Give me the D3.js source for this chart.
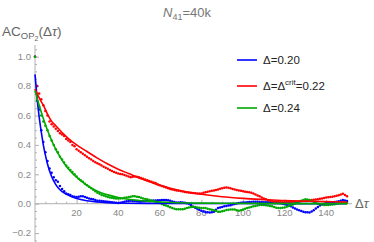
<!DOCTYPE html>
<html>
<head>
<meta charset="utf-8">
<script src="https://cdn.jsdelivr.net/npm/d3@7"></script>
<style>
  body { margin: 0; background: #fff; }
  text { font-family: "Liberation Sans", Arial, sans-serif; }
</style>
</head>
<body>
<div id="chart"></div>
<script>
const width = 374;
const height = 242;

const blueDots = [
  1.0, 0.80, 0.64, 0.50, 0.42, 0.35, 0.29, 0.24, 0.21, 0.18,
  0.16, 0.15, 0.12, 0.10, 0.085, 0.07, 0.065, 0.06, 0.05, 0.048,
  0.045, 0.048, 0.05, 0.05, 0.045, 0.04, 0.035, 0.032, 0.03, 0.025,
  0.02, 0.02, 0.018, 0.016, 0.015, 0.013, 0.012, 0.01, 0.008, 0.006,
  0.005, 0.007, 0.01, 0.013, 0.016, 0.019, 0.02, 0.019, 0.018, 0.016,
  0.015, 0.015, 0.016, 0.017, 0.018, 0.019, 0.02, 0.021, 0.022, 0.023,
  0.024, 0.025, 0.026, 0.025, 0.024, 0.02, 0.015, 0.011, 0.008, 0.009,
  0.01, 0.008, 0.006, 0.003, 0.0, -0.01, -0.02, -0.028, -0.035, -0.042,
  -0.048, -0.053, -0.058, -0.059, -0.06, -0.058, -0.055, -0.042, -0.03, -0.026,
  -0.022, -0.018, -0.015, -0.012, -0.01, -0.006, -0.002, 0.002, 0.005, 0.007,
  0.008, 0.009, 0.01, 0.011, 0.012, 0.013, 0.014, 0.013, 0.012, 0.011,
  0.01, 0.01, 0.01, 0.009, 0.008, 0.008, 0.008, 0.006, 0.004, 0.0,
  -0.004, -0.008, -0.012, -0.018, -0.025, -0.033, -0.04, -0.045, -0.05, -0.054,
  -0.058, -0.059, -0.06, -0.053, -0.045, -0.033, -0.022, -0.013, -0.005, 0.0,
  0.004, 0.006, 0.008, 0.01, 0.012, 0.014, 0.016, 0.02, 0.025, 0.022,
  0.018
];

const redDots = [
  1.0, 0.80, 0.75, 0.71, 0.67, 0.63, 0.60, 0.56, 0.54, 0.525,
  0.51, 0.495, 0.48, 0.47, 0.46, 0.44, 0.43, 0.42, 0.40, 0.39,
  0.37, 0.36, 0.35, 0.34, 0.33, 0.32, 0.31, 0.30, 0.29, 0.282,
  0.275, 0.268, 0.26, 0.252, 0.245, 0.238, 0.23, 0.222, 0.215, 0.21,
  0.205, 0.202, 0.20, 0.195, 0.19, 0.185, 0.18, 0.183, 0.185, 0.183,
  0.18, 0.175, 0.17, 0.165, 0.16, 0.155, 0.15, 0.145, 0.14, 0.132,
  0.125, 0.12, 0.115, 0.11, 0.105, 0.10, 0.097, 0.093, 0.09, 0.088,
  0.086, 0.083, 0.08, 0.078, 0.076, 0.075, 0.073, 0.071, 0.07, 0.069,
  0.07, 0.074, 0.078, 0.082, 0.085, 0.088, 0.09, 0.094, 0.097, 0.101,
  0.105, 0.108, 0.11, 0.108, 0.105, 0.10, 0.097, 0.094, 0.09, 0.088,
  0.085, 0.082, 0.08, 0.078, 0.075, 0.069, 0.062, 0.056, 0.05, 0.042,
  0.035, 0.03, 0.025, 0.02, 0.016, 0.014, 0.013, 0.012, 0.011, 0.01,
  0.01, 0.01, 0.011, 0.012, 0.013, 0.014, 0.014, 0.015, 0.016, 0.018,
  0.02, 0.021, 0.022, 0.025, 0.027, 0.029, 0.031, 0.034, 0.036, 0.039,
  0.042, 0.044, 0.046, 0.048, 0.05, 0.054, 0.058, 0.063, 0.068, 0.06,
  0.05
];

const greenDots = [
  1.0, 0.70, 0.66, 0.60, 0.56, 0.53, 0.50, 0.46, 0.43, 0.40,
  0.37, 0.35, 0.32, 0.30, 0.28, 0.26, 0.245, 0.23, 0.215, 0.20,
  0.185, 0.17, 0.16, 0.15, 0.135, 0.125, 0.115, 0.105, 0.095, 0.085,
  0.075, 0.068, 0.06, 0.055, 0.05, 0.046, 0.042, 0.04, 0.037, 0.036,
  0.035, 0.036, 0.037, 0.04, 0.043, 0.046, 0.048, 0.05, 0.05, 0.048,
  0.045, 0.04, 0.035, 0.032, 0.03, 0.026, 0.022, 0.018, 0.014, 0.01,
  0.005, -0.002, -0.008, -0.013, -0.018, -0.024, -0.03, -0.034, -0.038, -0.038,
  -0.038, -0.037, -0.035, -0.03, -0.025, -0.022, -0.02, -0.022, -0.025, -0.028,
  -0.03, -0.03, -0.03, -0.034, -0.038, -0.042, -0.045, -0.05, -0.055, -0.054,
  -0.052, -0.048, -0.043, -0.041, -0.04, -0.04, -0.04, -0.044, -0.048, -0.044,
  -0.04, -0.035, -0.03, -0.026, -0.022, -0.018, -0.015, -0.012, -0.009, -0.009,
  -0.009, -0.01, -0.012, -0.015, -0.018, -0.023, -0.028, -0.029, -0.03, -0.028,
  -0.025, -0.02, -0.015, -0.01, -0.005, 0.002, 0.008, 0.014, 0.02, 0.025,
  0.03, 0.028, 0.025, 0.018, 0.012, 0.006, 0.0, -0.003, -0.006, -0.008,
  -0.009, -0.008, -0.007, -0.005, -0.003, 0.0, 0.003, 0.006, 0.008, 0.007,
  0.005
];

// courbes ajustées, lues point par point : [Δτ, AC]
const blueFit = [[0,0.88],[1,0.72],[2,0.59],[3,0.49],[4,0.40],[5,0.33],[6,0.27],[8,0.185],[10,0.13],[12,0.095],[15,0.065],[20,0.035],[25,0.02],[30,0.012],[40,0.005],[60,0.002],[100,0.001],[150,0.0]];
const redFit = [[0,0.78],[2,0.72],[4,0.67],[6,0.61],[8,0.56],[10,0.53],[14,0.47],[18,0.42],[20,0.40],[25,0.355],[30,0.31],[35,0.27],[40,0.235],[45,0.205],[50,0.175],[55,0.15],[60,0.125],[65,0.105],[70,0.088],[80,0.064],[90,0.047],[100,0.036],[110,0.028],[120,0.021],[130,0.017],[140,0.014],[150,0.012]];
const greenFit = [[0,0.77],[2,0.67],[4,0.58],[6,0.50],[8,0.43],[10,0.37],[12,0.32],[15,0.255],[20,0.18],[25,0.125],[30,0.085],[35,0.06],[40,0.042],[50,0.022],[60,0.012],[80,0.004],[100,0.002],[150,0.0]];

const xTicks = [20, 40, 60, 80, 100, 120, 140];
const yTicks = [-0.2, 0.0, 0.2, 0.4, 0.6, 0.8, 1.0];
const legendLabels = ["0.20", "crit", "0.24"];

const series = [
  { dots: blueDots, fit: blueFit, color: "#0000ff" },
  { dots: redDots, fit: redFit, color: "#ff0000" },
  { dots: greenDots, fit: greenFit, color: "#00a800" }
];

const x = d3.scaleLinear().domain([0, 150]).range([35, 347]);
const y = d3.scaleLinear().domain([0, 1]).range([203.7, 56.7]);

const svg = d3.select("#chart").append("svg")
  .attr("width", width)
  .attr("height", height);

const axisColor = "#b0b0b0";
const labelColor = "#888";

// axes façon Mathematica (ticks vers l'intérieur)
const xAxis = svg.append("g")
  .attr("transform", `translate(0,${y(0)})`)
  .call(d3.axisTop(x).tickValues(d3.range(5, 151, 5)).tickSize(2).tickFormat(""));
xAxis.selectAll(".tick line").attr("stroke", axisColor)
  .filter(d => d % 20 === 0).attr("y2", -4);
xAxis.select(".domain").attr("stroke", axisColor).attr("d", `M35,0H352`);

svg.append("g").selectAll("text")
  .data(xTicks)
  .enter().append("text")
  .attr("x", d => x(d))
  .attr("y", y(0) + 12.5)
  .attr("text-anchor", "middle")
  .attr("font-size", "9.5px")
  .attr("fill", labelColor)
  .text(d => d);

const yAxis = svg.append("g")
  .attr("transform", `translate(${x(0)},0)`)
  .call(d3.axisRight(y).tickValues(d3.range(-0.25, 1.051, 0.05)).tickSize(2).tickFormat(""));
yAxis.selectAll(".tick line").attr("stroke", axisColor)
  .filter(d => Math.abs(Math.round(d * 5) - d * 5) < 1e-6).attr("x2", 4);
yAxis.select(".domain").attr("stroke", axisColor).attr("d", `M0,${y(-0.26)}V${y(1.08)}`);

svg.append("g").selectAll("text")
  .data(yTicks)
  .enter().append("text")
  .attr("x", 31)
  .attr("y", d => y(d) + 3.3)
  .attr("text-anchor", "end")
  .attr("font-size", "9.5px")
  .attr("fill", labelColor)
  .text(d => d < 0 ? "\u2212" + d3.format(".1f")(-d) : d3.format(".1f")(d));

// points
series.forEach(s => {
  svg.append("g").selectAll("circle")
    .data(s.dots)
    .enter().append("circle")
    .attr("cx", (d, i) => x(i))
    .attr("cy", d => y(d))
    .attr("r", 1.25)
    .attr("fill", s.color);
});

// ajustements
const line = d3.line()
  .x(d => x(d[0]))
  .y(d => y(d[1]))
  .curve(d3.curveMonotoneX);

series.forEach(s => {
  svg.append("path")
    .datum(s.fit)
    .attr("fill", "none")
    .attr("stroke", s.color)
    .attr("stroke-width", 1.6)
    .attr("d", line);
});

// titre
const title = svg.append("text")
  .attr("x", 187)
  .attr("y", 17)
  .attr("text-anchor", "middle")
  .attr("font-size", "13px")
  .attr("fill", "#777");
title.append("tspan").attr("font-style", "italic").text("N");
title.append("tspan").attr("font-size", "9px").attr("dy", 3).text("41");
title.append("tspan").attr("dy", -3).text("=40k");

// label y
const yLab = svg.append("text")
  .attr("x", 2)
  .attr("y", 36)
  .attr("font-size", "13.5px")
  .attr("fill", "#666");
yLab.append("tspan").text("AC");
yLab.append("tspan").attr("font-size", "9.5px").attr("dy", 3).text("OP");
yLab.append("tspan").attr("font-size", "7px").attr("dy", 2).text("2");
yLab.append("tspan").attr("dy", -5).text("(\u0394");
yLab.append("tspan").attr("font-style", "italic").text("\u03c4");
yLab.append("tspan").text(")");

// label x
const xLab = svg.append("text")
  .attr("x", 355)
  .attr("y", 208)
  .attr("font-size", "13px")
  .attr("fill", "#666");
xLab.append("tspan").text("\u0394");
xLab.append("tspan").attr("font-style", "italic").text("\u03c4");

// légende
const legendY = [60, 86, 108];
const legend = svg.append("g");
series.forEach((s, i) => {
  legend.append("line")
    .attr("x1", 237).attr("x2", 257)
    .attr("y1", legendY[i]).attr("y2", legendY[i])
    .attr("stroke", s.color)
    .attr("stroke-width", 1.6);
  const t = legend.append("text")
    .attr("x", 263)
    .attr("y", legendY[i] + 4)
    .attr("font-size", "11.5px")
    .attr("fill", "#222");
  if (legendLabels[i] === "crit") {
    t.append("tspan").text("\u0394=\u0394");
    t.append("tspan").attr("font-size", "8px").attr("dy", -5).text("crit");
    t.append("tspan").attr("dy", 5).text("=0.22");
  } else {
    t.text("\u0394=" + legendLabels[i]);
  }
});
</script>
</body>
</html>
